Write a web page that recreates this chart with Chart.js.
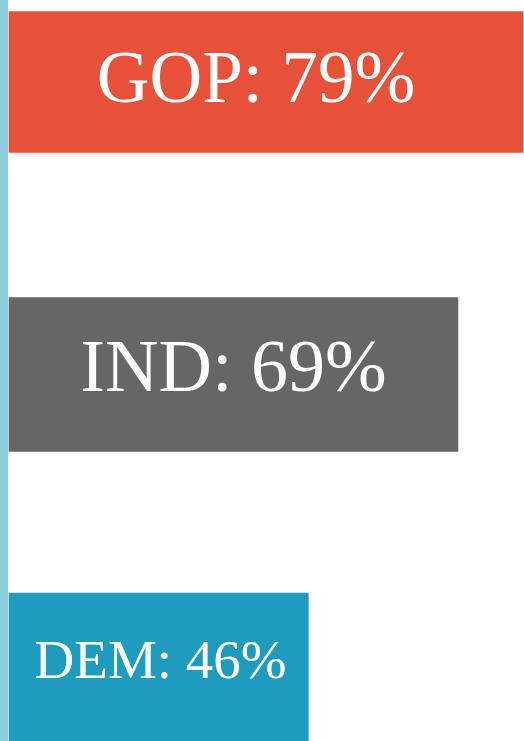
<!DOCTYPE html>
<html>
<head>
<meta charset="utf-8">
<script src="https://cdn.jsdelivr.net/npm/chart.js@4"></script>
<style>
  body { margin: 0; background: #fff; }
  #wrap { border-left: 8px solid #8ccbdc; width: 516px; height: 741px; }
</style>
</head>
<body>
<div id="wrap"><canvas id="myChart" width="516" height="741"></canvas></div>
<script>
// party approval numbers
const parties = ["GOP", "IND", "DEM"];
const approval = [79, 69, 46];

// styling per bar
const barColors = ["#e6513a", "#666666", "#1f9cbd"];
const barHeights = [141, 154, 148];
const fontSizes = [73, 74, 55];
const textNudgeX = [-10, 0, 2];
const textNudgeY = [1, -3, -3];

// one dataset per party so each bar can have its own thickness
let datasets = parties.map((p, i) => ({
  label: p,
  data: approval.map((v, j) => (j === i ? v : null)),
  backgroundColor: barColors[i],
  barThickness: barHeights[i],
  grouped: false,
  clip: false
}));

// write "GOP: 79%" in the middle of each bar
const barText = {
  id: 'barText',
  afterDatasetsDraw(chart) {
    let ctx = chart.ctx;
    ctx.save();
    ctx.fillStyle = "#fff";
    ctx.textAlign = "center";
    ctx.textBaseline = "middle";
    chart.data.datasets.forEach((ds, i) => {
      let bar = chart.getDatasetMeta(i).data[i];
      let cx = (bar.base + bar.x) / 2 + textNudgeX[i];
      ctx.font = fontSizes[i] + "px 'Liberation Serif', serif";
      ctx.fillText(parties[i] + ": " + approval[i] + "%", cx, bar.y + textNudgeY[i]);
    });
    ctx.restore();
  }
};

new Chart(document.getElementById('myChart'), {
  type: 'bar',
  data: { labels: parties, datasets: datasets },
  options: {
    indexAxis: 'y',
    responsive: false,
    animation: false,
    layout: { padding: { left: 1, right: 1, top: 82, bottom: 74 } },
    scales: {
      x: { display: false, min: 0, max: 79 },
      y: { display: false, offset: false, grid: { offset: false } }
    },
    plugins: { legend: { display: false }, tooltip: { enabled: false } }
  },
  plugins: [barText]
});
</script>
</body>
</html>
